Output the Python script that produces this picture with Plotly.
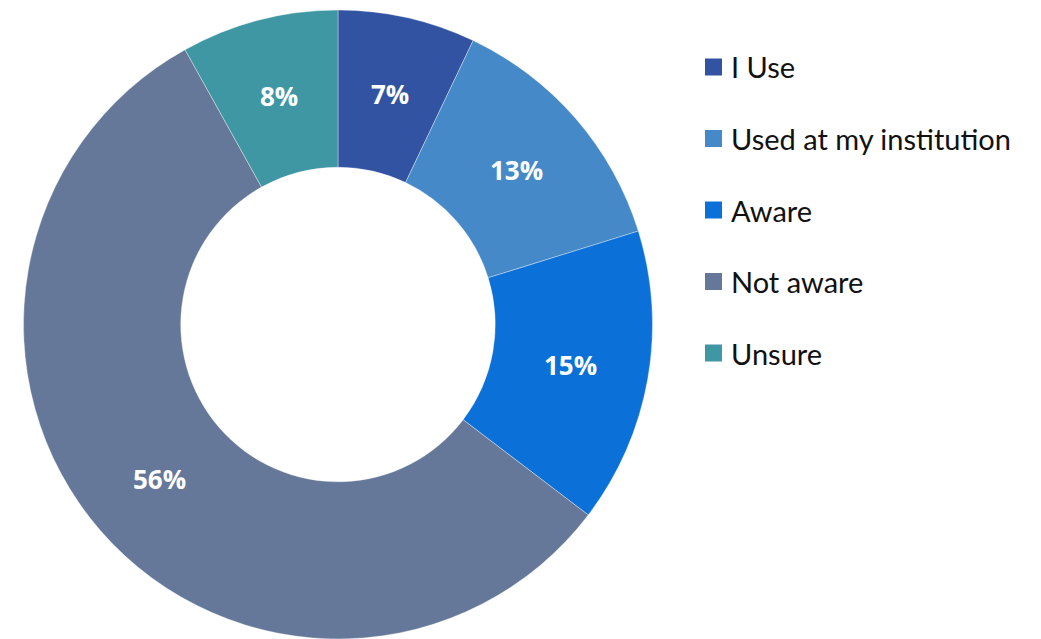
import math
import plotly.graph_objects as go

labels = ["I Use", "Used at my institution", "Aware", "Not aware", "Unsure"]
values = [7, 13, 15, 56, 8]
colors = ["#3253A2", "#4589C8", "#0B70D8", "#65789A", "#4097A4"]

W, H = 1041, 639
HOLE = 0.5
dom_x = [23 / W, 653 / W]
dom_y = [0.0, (H - 10) / H]

fig = go.Figure()
fig.add_trace(go.Pie(
    labels=labels,
    values=values,
    hole=HOLE,
    sort=False,
    direction="clockwise",
    rotation=0,
    marker=dict(colors=colors, line=dict(color="rgba(255,255,255,0.6)", width=0.6)),
    textinfo="none",
    domain=dict(x=dom_x, y=dom_y),
    showlegend=False,
    hoverinfo="label+value",
))

# Percentage labels placed at the middle of the ring for each slice
cx = (dom_x[0] + dom_x[1]) / 2 * W
cy = H - (dom_y[0] + dom_y[1]) / 2 * H
r_out = min((dom_x[1] - dom_x[0]) * W, (dom_y[1] - dom_y[0]) * H) / 2
r_mid = r_out * (1 + HOLE) / 2
total = sum(values)
cum = 0
for v in values:
    ang = 2 * math.pi * (cum + v / 2) / total
    cum += v
    px = cx + r_mid * math.sin(ang)
    py = cy - r_mid * math.cos(ang)
    fig.add_annotation(x=px / W, y=1 - py / H, xref="paper", yref="paper",
                       text=f"{v}%", showarrow=False, xanchor="center", yanchor="middle",
                       font=dict(family="Open Sans", size=26, color="white", weight=700))

# Legend drawn manually to match the spacing
y0 = 67
step = 71.5
for i, (lab, col) in enumerate(zip(labels, colors)):
    yc = y0 + i * step
    fig.add_shape(type="rect", xref="paper", yref="paper",
                  x0=705 / W, x1=722 / W,
                  y0=1 - (yc - 8.5) / H, y1=1 - (yc + 8.5) / H,
                  fillcolor=col, line=dict(width=0))
    fig.add_annotation(x=729 / W, y=1 - yc / H, xref="paper", yref="paper",
                       text=lab, showarrow=False, xanchor="left", yanchor="middle",
                       font=dict(family="Lato", size=29, color="#111111"))

fig.update_layout(
    width=W, height=H,
    margin=dict(l=0, r=0, t=0, b=0),
    paper_bgcolor="white",
    plot_bgcolor="white",
)

fig.write_html("out.html")
